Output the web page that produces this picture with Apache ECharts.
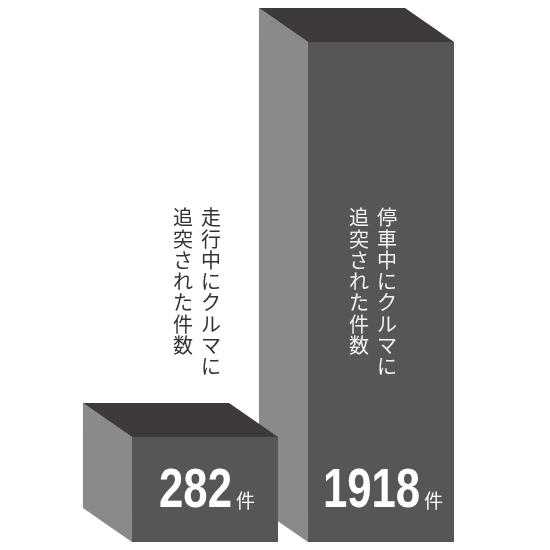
<!DOCTYPE html>
<html><head><meta charset="utf-8">
<script src="https://cdn.jsdelivr.net/npm/echarts@6/dist/echarts.min.js"></script>
<style>html,body{margin:0;padding:0;background:#fff}#c{width:550px;height:550px}</style>
</head><body><div id="c"></div>
<script>
const categories = ['走行中にクルマに追突された件数', '停車中にクルマに追突された件数'];
const values = [282, 1918];
const captionLines = [
  ['走行中にクルマに', '追突された件数'],
  ['停車中にクルマに', '追突された件数']
];
const unitLabel = '件';
const Y_MIN = -153;

const NUM_FONT = 'bold 56px "Liberation Sans", Arial, sans-serif';
const UNIT_FONT = '19px "Noto Sans CJK JP", sans-serif';
const NUM_SX = 0.78;
const mctx = document.createElement('canvas').getContext('2d');
function measure(text, font) { mctx.font = font; return mctx.measureText(text).width; }

const chart = echarts.init(document.getElementById('c'));
chart.setOption({
  animation: false,
  backgroundColor: '#ffffff',
  grid: { left: 117, right: 81, top: 42, bottom: 8 },
  xAxis: { type: 'category', data: categories, show: false },
  yAxis: { type: 'value', min: Y_MIN, max: 1918, show: false },
  series: [{
    type: 'custom',
    data: values.map((v, i) => [i, v]),
    renderItem: function (params, api) {
      const i = api.value(0), v = api.value(1);
      const top = api.coord([i, v]);
      const base = api.coord([i, Y_MIN]);
      const bw = api.size([1, 0])[0] * 0.83;
      const cx = top[0];
      const x0 = cx - bw / 2, x1 = cx + bw / 2, yT = top[1], yB = base[1];
      const dx = -49, dy = -34;
      const zb = (values.length - i) * 10;
      const inside = i === 1;
      const numText = String(v);
      const numW = measure(numText, NUM_FONT) * NUM_SX;
      const unitW = measure(unitLabel, UNIT_FONT);
      const gap = 4;
      const left = cx + 2 - (numW + gap + unitW) / 2;
      const children = [
        { type: 'polygon', z2: zb, shape: { points: [[x0, yT], [x0 + dx, yT + dy], [x0 + dx, yB + dy], [x0, yB]] }, style: { fill: '#8a8a8a' } },
        { type: 'polygon', z2: zb, shape: { points: [[x0, yT], [x0 + dx, yT + dy], [x1 + dx, yT + dy], [x1, yT]] }, style: { fill: '#3e3a3a' } },
        { type: 'rect', z2: zb + 1, shape: { x: x0, y: yT, width: bw, height: yB - yT }, style: { fill: '#585556' } },
        { type: 'text', z2: zb + 2, x: left, y: yB - 50, scaleX: NUM_SX, style: {
            text: numText, x: 0, y: 0, align: 'left', verticalAlign: 'middle',
            font: NUM_FONT, fill: '#ffffff'
          } },
        { type: 'text', z2: zb + 2, style: {
            text: unitLabel, x: left + numW + gap, y: yB - 41, align: 'left', verticalAlign: 'middle',
            font: UNIT_FONT, fill: '#ffffff'
          } }
      ];
      const lines = captionLines[i];
      const colX = [cx + 6, cx - 22];
      lines.forEach((ln, k) => {
        children.push({ type: 'text', z2: zb + 3, style: {
          text: ln.split('').join('\n'),
          x: colX[k], y: 207, align: 'center', verticalAlign: 'top',
          fontFamily: '"Noto Sans CJK JP", sans-serif', fontSize: 20, lineHeight: 21.3,
          fill: inside ? '#f2f2f2' : '#333333'
        } });
      });
      return { type: 'group', children: children };
    }
  }]
});
</script></body></html>
